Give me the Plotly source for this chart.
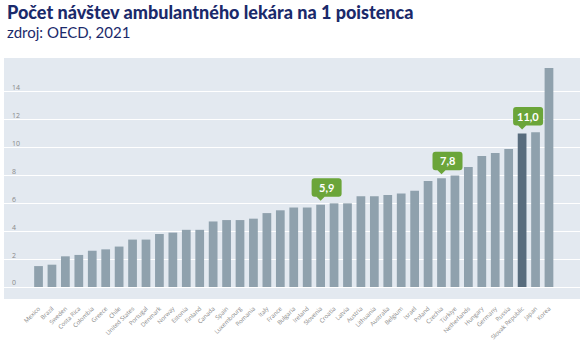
import plotly.graph_objects as go

countries = ["Mexico", "Brazil", "Sweden", "Costa Rica", "Colombia", "Greece", "Chile",
             "United States", "Portugal", "Denmark", "Norway", "Estonia", "Finland", "Canada",
             "Spain", "Luxembourg", "Romania", "Italy", "France", "Bulgaria", "Ireland",
             "Slovenia", "Croatia", "Latvia", "Austria", "Lithuania", "Australia", "Belgium",
             "Israel", "Poland", "Czechia", "Türkiye", "Netherlands", "Hungary", "Germany",
             "Russia", "Slovak Republic", "Japan", "Korea"]
visits = [1.5, 1.6, 2.2, 2.3, 2.6, 2.7, 2.9,
          3.4, 3.4, 3.8, 3.9, 4.1, 4.1, 4.7,
          4.8, 4.8, 4.9, 5.3, 5.5, 5.7, 5.7,
          5.9, 6.0, 6.0, 6.5, 6.5, 6.6, 6.7,
          6.9, 7.6, 7.8, 8.0, 8.6, 9.4, 9.6,
          9.9, 11.0, 11.1, 15.7]
highlight = "Slovak Republic"
callouts = ["Slovenia", "Czechia", "Slovak Republic"]
y_ticks = [0, 2, 4, 6, 8, 10, 12, 14]

BAR = "#8fa1ad"
BAR_HI = "#586c7d"
GREEN = "#6ba539"
NAVY = "#1b2a6b"

colors = [BAR_HI if c == highlight else BAR for c in countries]

fig = go.Figure(go.Bar(x=countries, y=visits, marker=dict(color=colors, line=dict(width=0)),
                       width=0.65, hoverinfo="x+y"))

box_path = ("M 0,4 L -4,8 L -6,8 Q -9,8 -9,11 L -9,23.5 Q -9,26.5 -6,26.5 "
            "L 18,26.5 Q 21,26.5 21,23.5 L 21,11 Q 21,8 18,8 L 4,8 Z")
for c in callouts:
    v = visits[countries.index(c)]
    fig.add_shape(type="path", xref="x", yref="y", xsizemode="pixel", ysizemode="pixel",
                  xanchor=c, yanchor=v, path=box_path, fillcolor=GREEN,
                  line=dict(width=0), layer="above")
    fig.add_annotation(x=c, y=v, text="<b>" + f"{v:.1f}".replace(".", ",") + "</b>",
                       showarrow=False, xshift=6, yshift=17.5,
                       font=dict(family="Lato", size=11, color="white"))

fig.add_annotation(x=0.0, y=1.0, xref="paper", yref="paper", xanchor="left", yanchor="bottom",
                   xshift=1, yshift=33, showarrow=False, align="left",
                   text="Počet návštev ambulantného lekára na 1 poistenca",
                   font=dict(family="Lato", size=18, color=NAVY, weight=900))
fig.add_annotation(x=0.0, y=1.0, xref="paper", yref="paper", xanchor="left", yanchor="bottom",
                   xshift=1, yshift=15, showarrow=False, align="left",
                   text="zdroj: OECD, 2021",
                   font=dict(family="Lato", size=15, color=NAVY))

fig.update_layout(
    width=584, height=340,
    margin=dict(l=4, r=4, t=58, b=41),
    paper_bgcolor="white", plot_bgcolor="#e3e9f0",
    showlegend=False, bargap=0.35,
    xaxis=dict(type="category", range=[-2.57, 40.31], tickangle=-45, automargin=False,
               tickfont=dict(family="Open Sans", size=6, color="#8a8a8a"),
               ticklabelstandoff=4,
               showgrid=False, ticks="", showline=False, fixedrange=True),
    yaxis=dict(range=[-0.86, 16.42], tickvals=y_ticks, ticktext=[str(t) for t in y_ticks],
               automargin=False,
               gridcolor="white", gridwidth=1.2, zeroline=False, showline=False,
               ticklabelposition="inside", ticklabelstandoff=5, ticklabelshift=-4,
               tickfont=dict(family="Open Sans", size=7, color="#8a8a8a"), fixedrange=True),
)

fig.write_html("out.html")
